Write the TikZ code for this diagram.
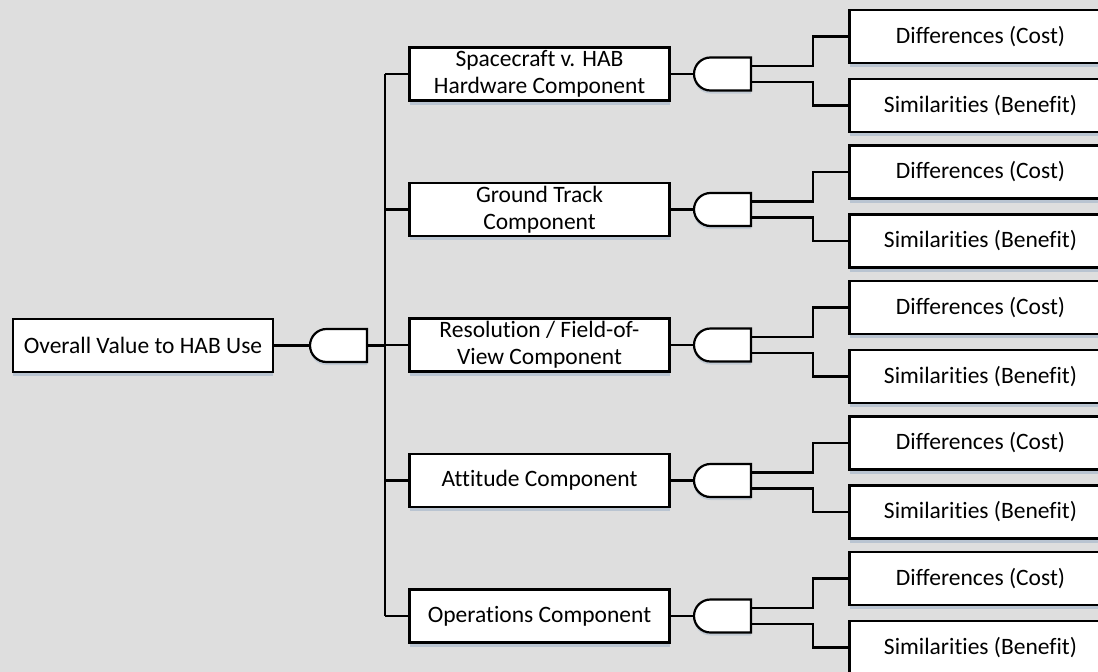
\documentclass[tikz,border=0pt]{standalone}
\usepackage{fontspec}
\setmainfont{Carlito}[Ligatures={NoCommon}]
\usetikzlibrary{shapes.misc,shadows,calc}
\definecolor{bg}{RGB}{222,222,222}
\definecolor{shadowc}{RGB}{140,165,195}
\begin{document}
\begin{tikzpicture}[x=1pt,y=-1pt,font=\fontsize{23.5}{27}\selectfont,
  box/.style={draw=black, line width=2.2pt, fill=white, minimum width=260pt,
    minimum height=53pt, inner sep=0pt, align=center,
    drop shadow={shadow xshift=0pt, shadow yshift=-4pt, fill=shadowc, opacity=0.45}},
  rbox/.style={box, minimum width=262pt},
  gate/.style={draw=black, line width=2.2pt, fill=white, rounded rectangle,
    rounded rectangle right arc=none, minimum width=57pt, minimum height=33pt,
    inner sep=0pt,
    drop shadow={shadow xshift=0pt, shadow yshift=-3pt, fill=shadowc, opacity=0.35}},
  wire/.style={line width=2.6pt}]
\useasboundingbox (0,0) rectangle (1098,672);
\clip (0,0) rectangle (1098,672);
\fill[bg] (0,0) rectangle (1098,672);

\node[box] (root) at (143,345.5) {Overall Value to HAB Use};
\node[gate] (g0) at (338.5,345.5) {};
\coordinate (bus0) at (385,345.5);
\coordinate (bustop) at (385,74);
\coordinate (busbot) at (385,616);
\draw[wire] (root) -- (g0);
\draw[wire] (g0) -- (bus0);
\draw[wire] (bustop) -- (busbot);

\foreach \i/\y/\t in {1/74/{Spacecraft v. HAB\\Hardware Component},
                      2/209.5/{Ground Track\\Component},
                      3/345/{Resolution / Field-of-\\View Component},
                      4/480.5/{Attitude Component},
                      5/616/{Operations Component}}{
  \node[box] (m\i) at (539.5,\y) {\t};
  \node[gate] (g\i) at (722.5,\y) {};
  \node[rbox] (d\i) at (980.5,\y-37.5) {Differences (Cost)};
  \node[rbox] (s\i) at (980.5,\y+31.5) {Similarities (Benefit)};
  \draw[wire] (bustop |- m\i.west) -- (m\i.west);
  \draw[wire] (m\i) -- (g\i);
  \draw[wire] ([yshift=8pt]g\i.east) -- ++(61,0) |- (d\i.west);
  \draw[wire] ([yshift=-8pt]g\i.east) -- ++(61,0) |- (s\i.west);
}
\end{tikzpicture}
\end{document}
